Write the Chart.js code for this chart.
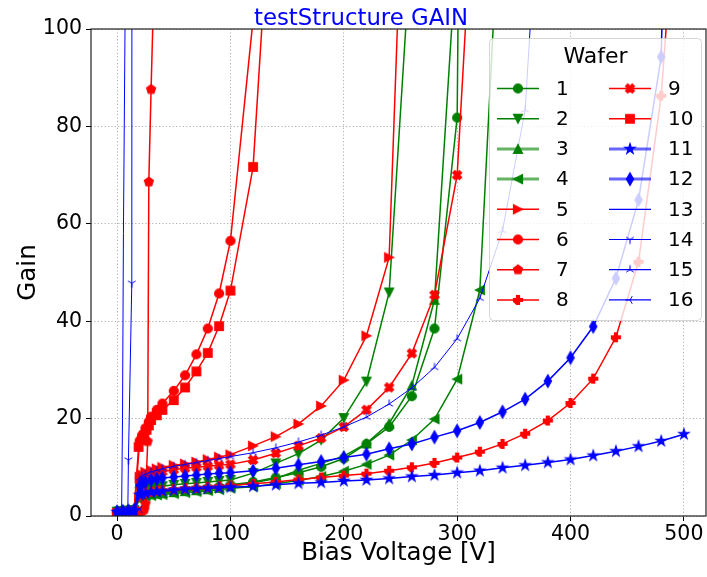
<!DOCTYPE html>
<html>
<head>
<meta charset="utf-8">
<title>testStructure GAIN</title>
<script src="https://cdn.jsdelivr.net/npm/chart.js@4.4.1/dist/chart.umd.min.js"></script>
<style>
    html, body { margin: 0; padding: 0; background: #fff; }
    #wrap { width: 707px; height: 577px; }
</style>
</head>
<body>
<div id="wrap"><canvas id="myChart" width="707" height="577"></canvas></div>
<script>
// bias voltage steps used by most wafers
var vStd = [0, 5, 10, 15, 20, 22, 25, 30, 35, 40, 50, 60, 70, 80, 90, 100,
    120, 140, 160, 180, 200, 220, 240, 260, 280, 300, 320, 340, 360, 380, 400,
    420, 440, 460, 480, 500];
// wafers measured on their own voltage steps
var v6 = [0, 5, 10, 15, 20, 22, 25, 28, 30, 35, 40, 50, 60, 70, 80, 90, 100, 120];
var v7 = [0, 5, 10, 15, 20, 22, 24, 25, 27, 28, 30, 32];
var v10 = [0, 5, 10, 15, 19, 22, 24, 26, 28, 30, 35, 40, 50, 60, 70, 80, 90, 100, 120, 140];
var v13 = [0, 2, 4, 4.8, 5.6, 7, 8];
var v14 = [0, 5, 8, 9.5, 10, 13, 13.2];

var g1 = [1.0, 1.1, 1.2, 1.3, 4.0, 4.3, 4.5, 4.7, 4.8, 4.9, 5.1, 5.3, 5.5, 5.7, 6.0, 6.4,
    7.0, 7.9, 8.9, 10.1, 11.8, 14.8, 18.3, 24.6, 38.5, 81.8, 600];
var g2 = [0.9, 1.0, 1.1, 1.2, 5.0, 5.3, 5.5, 5.8, 6.0, 6.1, 6.4, 6.6, 6.8, 7.0, 7.2, 7.4,
    8.8, 10.8, 12.8, 15.6, 20.1, 27.6, 45.9, 120];
var g3 = [0.8, 0.9, 1.0, 1.1, 3.8, 4.1, 4.3, 4.5, 4.6, 4.7, 4.9, 5.1, 5.3, 5.5, 5.8, 6.1,
    6.8, 7.7, 9.4, 10.8, 12.3, 14.9, 19.0, 26.8, 44.4, 118];
var g4 = [0.7, 0.8, 0.9, 1.0, 3.5, 3.8, 4.0, 4.2, 4.3, 4.4, 4.6, 4.8, 5.0, 5.2, 5.4, 5.7,
    6.0, 6.6, 7.3, 8.1, 9.2, 10.6, 12.5, 15.6, 19.9, 28.1, 46.4, 138];
var g5 = [0.6, 0.7, 0.8, 0.9, 8.0, 8.5, 9.0, 9.4, 9.7, 10.0, 10.4, 10.7, 11.1, 11.6, 12.1, 12.6,
    14.4, 16.3, 18.9, 22.6, 27.9, 37.0, 53.1, 183];
var g6 = [0.6, 0.7, 0.8, 1.0, 15.5, 16.6, 18.0, 19.4, 20.4, 21.8, 23.1, 25.7, 28.9, 33.2,
    38.5, 45.7, 56.5, 102];
var g7 = [0.3, 0.4, 0.5, 0.6, 0.8, 1.0, 1.3, 2.5, 15.3, 68.6, 87.6, 105];
var g8 = [0.5, 0.6, 0.7, 0.8, 4.2, 4.5, 4.8, 5.0, 5.2, 5.3, 5.5, 5.7, 5.8, 6.0, 6.1, 6.3,
    6.6, 7.0, 7.5, 7.9, 8.3, 8.7, 9.3, 10.0, 10.9, 12.0, 13.2, 14.8, 16.9, 19.6, 23.2,
    28.2, 36.7, 52.2, 86.3, 150];
var g9 = [0.5, 0.6, 0.7, 0.8, 7.3, 7.8, 8.2, 8.6, 8.9, 9.1, 9.5, 9.8, 10.0, 10.2, 10.4, 10.6,
    11.5, 12.9, 14.4, 16.0, 18.3, 21.8, 26.4, 33.4, 45.4, 70.0, 153];
var g10 = [0.5, 0.6, 0.7, 0.9, 14.2, 15.6, 16.6, 17.7, 18.6, 19.7, 20.7, 21.8, 23.8, 26.4,
    29.7, 33.5, 39.0, 46.3, 71.7, 146];
var g11 = [0.8, 0.9, 1.0, 1.1, 4.3, 4.5, 4.7, 4.9, 5.0, 5.1, 5.3, 5.5, 5.6, 5.7, 5.8, 5.9,
    6.1, 6.4, 6.7, 6.9, 7.2, 7.4, 7.7, 8.1, 8.4, 8.9, 9.3, 9.9, 10.4, 11.0, 11.6,
    12.4, 13.3, 14.3, 15.4, 16.8];
var g12 = [0.9, 1.0, 1.1, 1.2, 6.3, 6.7, 7.0, 7.4, 7.6, 7.8, 8.0, 8.2, 8.4, 8.6, 8.8, 8.9,
    9.3, 9.8, 10.5, 11.2, 12.0, 12.7, 13.8, 14.8, 16.2, 17.5, 19.2, 21.4, 24.0, 27.7, 32.5,
    38.9, 48.8, 64.9, 94.3, 300];
var g13 = [0.6, 0.7, 0.9, 20, 58, 100, 130];
var g14 = [0.7, 0.8, 0.9, 1.2, 11.5, 47.8, 220];
var g15 = [1.0, 1.1, 1.2, 1.3, 7.8, 8.2, 8.6, 9.1, 9.4, 9.7, 10.2, 10.6, 11.0, 11.4, 11.8, 12.2,
    13.0, 14.0, 15.2, 16.6, 18.3, 20.3, 23.0, 26.3, 30.5, 36.4, 44.7, 58.6, 83.4, 160];
var g16 = [0.9, 1.0, 1.1, 1.2, 1.4];

var xTicks = [0, 100, 200, 300, 400, 500];
var yTicks = [0, 20, 40, 60, 80, 100];

var GREEN = '#008000', RED = '#ff0000', BLUE = '#0000ff';

var series = [
    {label: '1', v: vStd, g: g1, color: GREEN, marker: 'o'},
    {label: '2', v: vStd, g: g2, color: GREEN, marker: 'v'},
    {label: '3', v: vStd, g: g3, color: GREEN, marker: '^', soft: true},
    {label: '4', v: vStd, g: g4, color: GREEN, marker: '<', soft: true},
    {label: '5', v: vStd, g: g5, color: RED, marker: '>'},
    {label: '6', v: v6, g: g6, color: RED, marker: 'o'},
    {label: '7', v: v7, g: g7, color: RED, marker: 'p'},
    {label: '8', v: vStd, g: g8, color: RED, marker: 'P'},
    {label: '9', v: vStd, g: g9, color: RED, marker: 'X'},
    {label: '10', v: v10, g: g10, color: RED, marker: 's'},
    {label: '11', v: vStd, g: g11, color: BLUE, marker: '*', soft: true},
    {label: '12', v: vStd, g: g12, color: BLUE, marker: 'd', soft: true},
    {label: '13', v: v13, g: g13, color: BLUE, marker: null, thin: true},
    {label: '14', v: v14, g: g14, color: BLUE, marker: '1', thin: true},
    {label: '15', v: vStd, g: g15, color: BLUE, marker: '2', thin: true},
    {label: '16', v: vStd, g: g16, color: BLUE, marker: '3', thin: true}
];

// matplotlib-like marker glyphs drawn onto small canvases
var makeMarker = function (shape, color) {
    var c = document.createElement('canvas');
    c.width = 18;
    c.height = 18;
    var g = c.getContext('2d');
    var R = 4.5;
    g.translate(9, 9);
    g.fillStyle = color;
    g.strokeStyle = color;
    g.lineWidth = 1.2;
    var poly = function (pts, k) {
        g.beginPath();
        pts.forEach(function (p, i) {
            if (i === 0) g.moveTo(p[0] * R * k, p[1] * R * k);
            else g.lineTo(p[0] * R * k, p[1] * R * k);
        });
        g.closePath();
        g.fill();
        g.stroke();
    };
    var arms = function (pts) {
        g.beginPath();
        pts.forEach(function (p) {
            g.moveTo(0, 0);
            g.lineTo(p[0] * R, p[1] * R);
        });
        g.lineWidth = 1;
        g.stroke();
    };
    var i, pts = [];
    switch (shape) {
        case 'o':
            g.beginPath();
            g.arc(0, 0, R, 0, 2 * Math.PI);
            g.fill();
            g.stroke();
            break;
        case '^': poly([[0, -1], [1, 1], [-1, 1]], 1); break;
        case 'v': poly([[0, 1], [1, -1], [-1, -1]], 1); break;
        case '<': poly([[-1, 0], [1, -1], [1, 1]], 1); break;
        case '>': poly([[1, 0], [-1, -1], [-1, 1]], 1); break;
        case 's': poly([[-1, -1], [1, -1], [1, 1], [-1, 1]], 0.95); break;
        case 'p':
            for (i = 0; i < 5; i++) {
                pts.push([Math.sin(i * 2 * Math.PI / 5), -Math.cos(i * 2 * Math.PI / 5)]);
            }
            poly(pts, 1.05);
            break;
        case '*':
            for (i = 0; i < 10; i++) {
                var r = i % 2 ? 0.382 : 1;
                pts.push([r * Math.sin(i * Math.PI / 5), -r * Math.cos(i * Math.PI / 5)]);
            }
            poly(pts, 1.2);
            break;
        case 'P':
            poly([[-1, -3], [1, -3], [1, -1], [3, -1], [3, 1], [1, 1], [1, 3], [-1, 3],
                [-3, 1], [-3, -1], [-1, -1]], 1 / 3);
            break;
        case 'X':
            poly([[-1, -2], [0, -1], [1, -2], [2, -1], [1, 0], [2, 1], [1, 2], [0, 1],
                [-1, 2], [-2, 1], [-1, 0], [-2, -1]], 0.5);
            break;
        case 'd': poly([[0, -1.4], [0.8, 0], [0, 1.4], [-0.8, 0]], 1); break;
        case '1': arms([[0, 1], [0.85, -0.5], [-0.85, -0.5]]); break;
        case '2': arms([[0, -1], [0.85, 0.5], [-0.85, 0.5]]); break;
        case '3': arms([[-1, 0], [0.5, 0.85], [0.5, -0.85]]); break;
    }
    return c;
};

series.forEach(function (s) {
    s.glyph = s.marker ? makeMarker(s.marker, s.color) : null;
});

var datasets = series.map(function (s, i) {
    return {
        label: s.label,
        data: s.g.map(function (y, k) {
            return {x: s.v[k], y: y};
        }),
        borderColor: s.color,
        backgroundColor: s.color,
        borderWidth: s.thin ? 1 : 1.5,
        pointStyle: s.glyph || 'circle',
        pointRadius: s.glyph ? 4 : 0,
        tension: 0,
        order: 15 - i
    };
});

var frameAndLegend = {
    id: 'frameAndLegend',
    afterDatasetsDraw: function (chart) {
        var ctx = chart.ctx;
        var a = chart.chartArea;
        ctx.save();
        // axes frame
        ctx.strokeStyle = '#222';
        ctx.lineWidth = 1.2;
        ctx.strokeRect(a.left, a.top, a.right - a.left, a.bottom - a.top);

        // legend box, two columns of eight
        var bx = a.right - 216.5, by = a.top + 9.5, bw = 212, bh = 282;
        var rr = 4;
        ctx.beginPath();
        ctx.moveTo(bx + rr, by);
        ctx.arcTo(bx + bw, by, bx + bw, by + bh, rr);
        ctx.arcTo(bx + bw, by + bh, bx, by + bh, rr);
        ctx.arcTo(bx, by + bh, bx, by, rr);
        ctx.arcTo(bx, by, bx + bw, by, rr);
        ctx.closePath();
        ctx.fillStyle = 'rgba(255,255,255,0.8)';
        ctx.fill();
        ctx.strokeStyle = 'rgba(204,204,204,0.8)';
        ctx.lineWidth = 1;
        ctx.stroke();

        ctx.fillStyle = '#000';
        ctx.textAlign = 'center';
        ctx.textBaseline = 'middle';
        ctx.font = '22px "DejaVu Sans"';
        ctx.fillText('Wafer', bx + 106, by + 19);

        ctx.font = '20px "DejaVu Sans"';
        ctx.textAlign = 'left';
        series.forEach(function (s, i) {
            var col = Math.floor(i / 8), row = i % 8;
            var x0 = bx + 7.5 + col * 112;
            var y = by + 50 + row * 30.2;
            ctx.save();
            ctx.strokeStyle = s.color;
            if (s.soft) {
                ctx.globalAlpha = 0.6;
                ctx.lineWidth = 3;
            } else {
                ctx.lineWidth = s.thin ? 1.2 : 1.5;
            }
            ctx.beginPath();
            ctx.moveTo(x0, y);
            ctx.lineTo(x0 + 42, y);
            ctx.stroke();
            ctx.restore();
            if (s.glyph) {
                ctx.drawImage(s.glyph, x0 + 21 - s.glyph.width / 2, y - s.glyph.height / 2);
            }
            ctx.fillStyle = '#000';
            ctx.fillText(s.label, x0 + 59, y + 1);
        });
        ctx.restore();
    },
    afterDraw: function (chart) {
        var ctx = chart.ctx;
        ctx.save();
        ctx.fillStyle = BLUE;
        ctx.font = '22.8px "DejaVu Sans"';
        ctx.textAlign = 'center';
        ctx.textBaseline = 'alphabetic';
        ctx.fillText('testStructure GAIN', 361, 25);
        ctx.restore();
    }
};

Chart.defaults.font.family = '"DejaVu Sans", sans-serif';
Chart.defaults.color = '#000';

var ctx = document.getElementById('myChart');
var myChart = new Chart(ctx, {
    type: 'line',
    data: {datasets: datasets},
    plugins: [frameAndLegend],
    options: {
        responsive: false,
        animation: false,
        devicePixelRatio: 1,
        events: [],
        layout: {autoPadding: false, padding: {top: 29, right: 1, left: 0, bottom: 0}},
        plugins: {
            legend: {display: false},
            tooltip: {enabled: false},
            title: {display: false}
        },
        scales: {
            x: {
                type: 'linear',
                min: -23,
                max: 519.5,
                afterBuildTicks: function (axis) {
                    axis.ticks = xTicks.map(function (v) { return {value: v}; });
                },
                afterFit: function (scale) {
                    scale.height = 61;
                    scale.paddingLeft = 0;
                    scale.paddingRight = 0;
                },
                ticks: {color: '#000', font: {size: 20.5}, padding: 1, maxRotation: 0, autoSkip: false},
                grid: {color: '#b0b0b0', lineWidth: 1, tickLength: 5, tickColor: '#000', tickWidth: 1},
                border: {display: false, dash: [1.2, 2.2]},
                title: {display: true, text: 'Bias Voltage [V]', color: '#000', font: {size: 24.5},
                    padding: {top: 0, bottom: 9}}
            },
            y: {
                type: 'linear',
                min: 0,
                max: 100,
                afterBuildTicks: function (axis) {
                    axis.ticks = yTicks.map(function (v) { return {value: v}; });
                },
                afterFit: function (scale) {
                    scale.width = 91;
                    scale.paddingTop = 0;
                    scale.paddingBottom = 0;
                },
                ticks: {color: '#000', font: {size: 20.5}, padding: 4, autoSkip: false},
                grid: {color: '#b0b0b0', lineWidth: 1, tickLength: 5, tickColor: '#000', tickWidth: 1},
                border: {display: false, dash: [1.2, 2.2]},
                title: {display: true, text: 'Gain', color: '#000', font: {size: 24.5},
                    padding: {top: 14, bottom: 0}}
            }
        }
    }
});
</script>
</body>
</html>
